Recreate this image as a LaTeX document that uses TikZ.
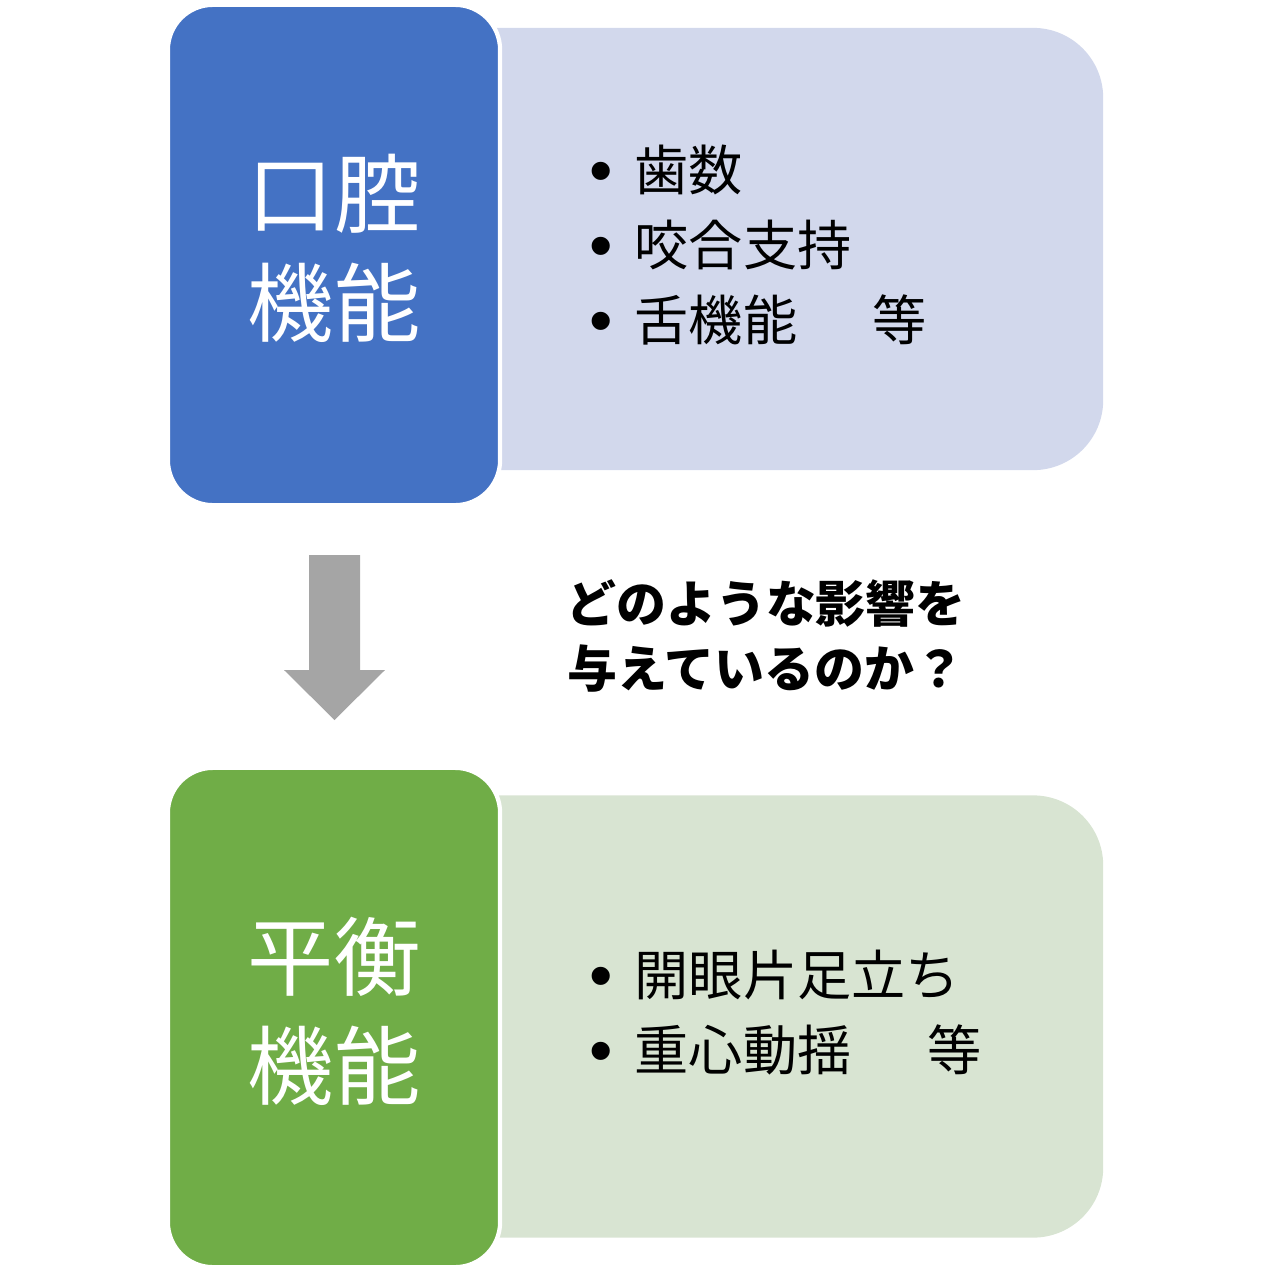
\documentclass[tikz,border=0pt]{standalone}
\usepackage{fontspec}
\setmainfont{Noto Sans CJK JP}
\newfontfamily\bulletfont{Liberation Sans}
\usetikzlibrary{positioning}

\definecolor{oralblue}{HTML}{4472C4}
\definecolor{oralpale}{HTML}{D2D8EC}
\definecolor{balgreen}{HTML}{70AD47}
\definecolor{balpale}{HTML}{D8E4D2}
\definecolor{arrowgray}{HTML}{A5A5A5}

\begin{document}
\begin{tikzpicture}[x=0.01cm,y=-0.01cm,
    headbox/.style={draw=white,line width=1.2pt,rounded corners=0.45cm,minimum width=3.32cm,minimum height=5cm,text=white,align=center,font=\fontsize{24.5}{31}\selectfont},
    headtext/.style={text=white,align=center,font=\fontsize{24.5}{31}\selectfont},
    panel/.style={rounded corners=0.7cm,minimum width=7.03cm,minimum height=4.42cm},
    itemtext/.style={anchor=west,inner sep=0pt,font=\fontsize{15.4}{18}\selectfont},
    bulletmark/.style={inner sep=0pt,yshift=-0.08cm,font=\bulletfont\fontsize{19}{20}\selectfont}]
    \useasboundingbox (0,0) rectangle (1268,1272);
    % oral function
    \node[panel,fill=oralpale] (oralpanel) at (751.5,249) {};
    \node[headbox,fill=oralblue] (oral) at (334,255) {};
    \node[headtext] (oraltext) at (334,248) {口腔\\機能};
    \foreach \txt [count=\i] in {歯数,咬合支持,舌機能\hspace{1.4em}等}{
        \node[itemtext] (oral\i) at (634,170+75*\i-75) {\txt};
        \node[bulletmark,left=0.2cm of oral\i] {•};
    }
    % arrow and question
    \fill[arrowgray] (309,555) -- (360,555) -- (360,670) -- (385,670) -- (334.5,720) -- (284,670) -- (309,670) -- cycle;
    \node[align=center,font=\bfseries\fontsize{14.2}{18.5}\selectfont] (question) at (766,636) {どのような影響を\\与えているのか？};
    % balance function
    \node[panel,fill=balpale] (balpanel) at (751.5,1016.5) {};
    \node[headbox,fill=balgreen,minimum height=4.99cm] (balance) at (334,1017.5) {};
    \node[headtext] (baltext) at (334,1011) {平衡\\機能};
    \foreach \txt [count=\i] in {開眼片足立ち,重心動揺\hspace{1.4em}等}{
        \node[itemtext] (bal\i) at (634,975+75*\i-75) {\txt};
        \node[bulletmark,left=0.2cm of bal\i] {•};
    }
\end{tikzpicture}
\end{document}
